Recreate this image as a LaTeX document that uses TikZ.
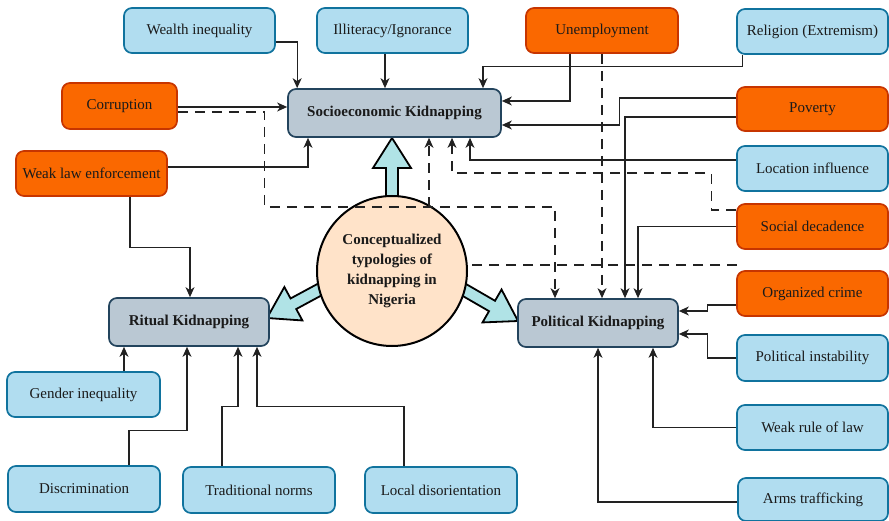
\documentclass[tikz,border=0pt]{standalone}
\usepackage{fontspec}
\setmainfont{Liberation Serif}
\usetikzlibrary{calc,arrows.meta}
\definecolor{bfill}{HTML}{B1DDF0}
\definecolor{bdraw}{HTML}{10739E}
\definecolor{ofill}{HTML}{FA6800}
\definecolor{odraw}{HTML}{C73500}
\definecolor{gfill}{HTML}{BAC8D3}
\definecolor{gdraw}{HTML}{23445D}
\definecolor{cfill}{HTML}{FFE3C9}
\definecolor{afill}{HTML}{B0E3E6}
\definecolor{txt}{HTML}{1A1A1A}
\definecolor{lin}{HTML}{222222}
\newcommand\fatarr[2]{%
  \coordinate (fa-a) at #1;
  \coordinate (fa-b) at #2;
  \coordinate (fa-c) at ($(fa-b)!30pt!(fa-a)$);
  \draw[fatstyle] ($(fa-a)!6pt!90:(fa-b)$) -- ($(fa-c)!6pt!90:(fa-b)$) -- ($(fa-c)!19pt!90:(fa-b)$)
    -- (fa-b) -- ($(fa-c)!19pt!-90:(fa-b)$) -- ($(fa-c)!6pt!-90:(fa-b)$) -- ($(fa-a)!6pt!-90:(fa-b)$) -- cycle;
}
\begin{document}
\begin{tikzpicture}[x=1pt,y=-1pt,
  basebox/.style={rounded corners=8pt, line width=1.7pt, inner sep=0pt, text=txt,
    font=\fontsize{15}{18}\selectfont, minimum width=151pt, minimum height=45pt},
  bluebox/.style={basebox, draw=bdraw, fill=bfill},
  orangebox/.style={basebox, draw=odraw, fill=ofill},
  mainbox/.style={basebox, draw=gdraw, fill=gfill, font=\fontsize{15}{18}\selectfont\bfseries,
    minimum width=160pt, minimum height=48pt},
  hub/.style={circle, draw=black, line width=2pt, fill=cfill, minimum size=150pt, inner sep=0pt,
    align=center, text=txt, font=\fontsize{15}{20}\selectfont\bfseries},
  fatstyle/.style={draw=black, line width=1.8pt, fill=afill, line join=miter},
  conn/.style={draw=lin, line width=1.1pt, -{Stealth[length=10pt,width=9pt,inset=3pt]}},
  dconn/.style={conn, dash pattern=on 10pt off 7pt},
  dline/.style={draw=lin, line width=1.1pt, dash pattern=on 10pt off 7pt}
]
\useasboundingbox (0,0) rectangle (889,521);

% thick arrows from the hub
\fatarr{(392,215)}{(392,138)}
\fatarr{(330,284)}{(267,318)}
\fatarr{(454,284)}{(518,321)}

% hub
\node[hub] (circ) at (392,271) {Conceptualized\\typologies of\\kidnapping in\\Nigeria};

% main boxes
\node[mainbox, minimum width=213pt] (socio) at (394.5,113) {Socioeconomic Kidnapping};
\node[mainbox] (rit) at (189,322) {Ritual Kidnapping};
\node[mainbox] (pol) at (598,323) {Political Kidnapping};

% top row
\node[bluebox] (wealth) at (199.5,30.5) {Wealth inequality};
\node[bluebox] (illit) at (392.5,30.5) {Illiteracy/Ignorance};
\node[orangebox, minimum width=152pt] (unemp) at (602,30.5) {Unemployment};
\node[bluebox] (relig) at (812.5,31.5) {Religion (Extremism)};

% left
\node[orangebox, minimum width=115pt, minimum height=46pt] (corr) at (119.5,106) {Corruption};
\node[orangebox] (wle) at (91.5,173.5) {Weak law enforcement};

% right column
\node[orangebox, minimum height=44pt] (pov) at (812.5,109) {Poverty};
\node[bluebox] (loc) at (812.5,168.5) {Location influence};
\node[orangebox] (social) at (812.5,226.5) {Social decadence};
\node[orangebox] (org) at (812.5,293.5) {Organized crime};
\node[bluebox, minimum height=46pt] (polinst) at (812.5,358) {Political instability};
\node[bluebox] (rule) at (812.5,427.5) {Weak rule of law};
\node[bluebox, minimum width=150pt, minimum height=43pt] (arms) at (813,499.5) {Arms trafficking};

% bottom left
\node[bluebox, minimum width=153pt] (gend) at (83.5,394.5) {Gender inequality};
\node[bluebox, minimum width=152pt, minimum height=46pt] (disc) at (84,489) {Discrimination};
\node[bluebox, minimum width=152pt, minimum height=46pt] (trad) at (259,490) {Traditional norms};
\node[bluebox, minimum width=152pt, minimum height=46pt] (locd) at (441,490) {Local disorientation};

% connectors to Socioeconomic Kidnapping
\draw[conn] ([yshift=-11.5pt]wealth.east) -| ([xshift=10pt]socio.north west);
\draw[conn] ([xshift=-7.5pt]illit.south) coordinate (i1) -- (i1 |- socio.north);
\draw[conn] ([yshift=-1pt]corr.east) coordinate (c1) -- (c1 -| socio.west);
\draw[conn] ([xshift=-32pt]unemp.south) |- ([yshift=12pt]socio.east);
\draw[conn] ([xshift=6pt]relig.south west) -- ++(0,12) -| ([xshift=88.5pt]socio.north);
\draw[conn] ([yshift=11pt]pov.west) -- ++(-117,0) |- ([yshift=-12pt]socio.east);
\draw[conn] ([yshift=8.5pt]loc.west) -| ([xshift=75.5pt]socio.south);
\draw[conn] ([yshift=6.5pt]wle.east) -| ([xshift=-86.5pt]socio.south);

% dashed connectors
\draw[dconn] ([yshift=-6pt]corr.east) -- ++(87,0) -- ++(0,95) -| ([xshift=-43pt]pol.north);
\coordinate (dj1) at (429,207);
\draw[dconn] (dj1) -- (dj1 |- socio.south);
\draw[dconn] ([yshift=16.5pt]social.west) -- ++(-25,0) -- ++(0,-37) -| ([xshift=57.5pt]socio.south);
\coordinate (dj2) at (737,265);
\draw[dline] (dj2) -- (dj2 -| circ.east);
\draw[dconn] (unemp.south) -- (unemp.south |- pol.north);

% connectors to Political Kidnapping
\draw[conn] ([yshift=-8pt]pov.west) -| ([xshift=27pt]pol.north);
\draw[conn] (social.west) -| ([xshift=40pt]pol.north);
\draw[conn] ([yshift=-11.5pt]org.west) -- ++(-29,0) |- ([yshift=12pt]pol.east);
\draw[conn] (polinst.west) -- ++(-29,0) |- ([yshift=-11pt]pol.east);
\draw[conn] (rule.west) -| ([xshift=55pt]pol.south);
\draw[conn] ([yshift=-2.5pt]arms.west) -| (pol.south);

% connectors to Ritual Kidnapping
\draw[conn] ([xshift=38.5pt]wle.south) -- ++(0,51) -| ([xshift=1pt]rit.north);
\draw[conn] ([xshift=40.5pt]gend.north) coordinate (g1) -- (g1 |- rit.south);
\draw[conn] ([xshift=45pt]disc.north) -- ++(0,-35) -| ([xshift=-2pt]rit.south);
\draw[conn] ([xshift=-37pt]trad.north) -- ++(0,-60) -| ([xshift=49pt]rit.south);
\draw[conn] ([xshift=-37pt]locd.north) -- ++(0,-60) -| ([xshift=68pt]rit.south);
\end{tikzpicture}
\end{document}
